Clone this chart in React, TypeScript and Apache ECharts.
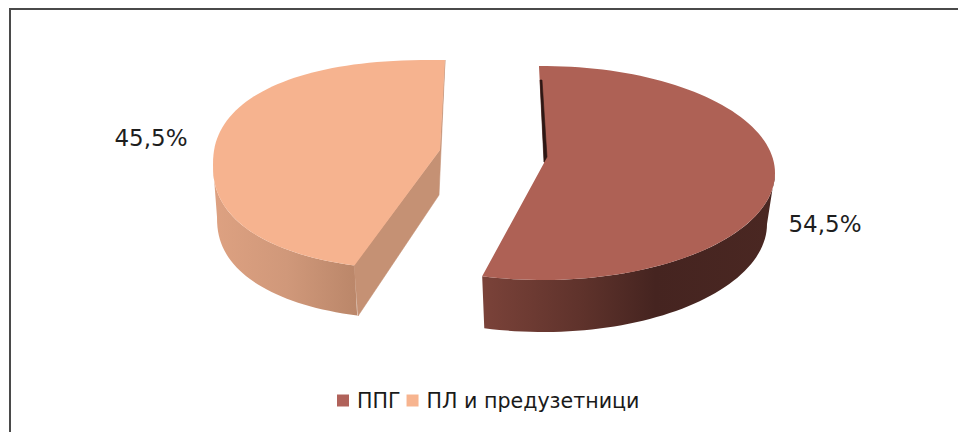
import React, { useEffect, useRef } from "react";
import * as echarts from "echarts";

const categories = ["ППГ", "ПЛ и предузетници"];
const shares = [54.5, 45.5];

const FONT = "'DejaVu Sans', Verdana, sans-serif";
const topColors = ["#AE6155", "#F6B38F"];
const legendColors = ["#B0625A", "#F7B48F"];

type Geo = {
  cx: number; cy: number; rx: number; ry: number; start: number; round: number;
  apex: [number, number]; depth: number; bottomRx: number; bottomCx: number; bottomRy: number;
  wallFrom: number; wallStops: [number, string][]; wallX: [number, number];
  label: [number, number];
  inner: [number, number][]; innerFill: string; innerOnTop: boolean;
};

const geos: Geo[] = [
  {
    cx: 543, cy: 173, rx: 232, ry: 107, start: -1, round: 1,
    apex: [544, 163], depth: 51, bottomRx: 224, bottomCx: 543, bottomRy: 108,
    wallFrom: 90,
    wallStops: [[0, "#7A4239"], [0.35, "#5E322B"], [0.6, "#452420"], [1, "#4A2722"]],
    wallX: [484, 770],
    label: [825, 224],
    inner: [[540, 80], [544, 162], [547, 157], [542, 80]],
    innerFill: "#2E1714",
    innerOnTop: true,
  },
  {
    cx: 434, cy: 165, rx: 221, ry: 105, start: 198, round: 0.87,
    apex: [440, 150], depth: 52, bottomRx: 219, bottomCx: 436, bottomRy: 103,
    wallFrom: 270,
    wallStops: [[0, "#DDA181"], [0.5, "#D0987A"], [1, "#BA8669"]],
    wallX: [215, 358],
    label: [151, 138],
    inner: [[445, 60], [439, 195], [358, 316], [354, 265], [440, 150]],
    innerFill: "#C59174",
    innerOnTop: false,
  },
];

const rad = (d: number) => (d * Math.PI) / 180;
const pow = (v: number, p: number) => Math.sign(v) * Math.pow(Math.abs(v), p);

function arc(cx: number, cy: number, rx: number, ry: number, a: number, b: number, p: number) {
  const pts: [number, number][] = [];
  const n = Math.max(2, Math.ceil(Math.abs(b - a) / 2));
  for (let i = 0; i <= n; i++) {
    const t = rad(a + ((b - a) * i) / n);
    pts.push([cx + rx * pow(Math.sin(t), p), cy - ry * pow(Math.cos(t), p)]);
  }
  return pts;
}

function renderSlice(idx: number) {
  return (_params: any, api: any) => {
    const value = api.value(0) as number;
    const g = geos[idx];
    const end = g.start + value * 3.6;
    const topArc = arc(g.cx, g.cy, g.rx, g.ry, g.start, end, g.round);
    // the outer wall runs from the arc's widest point down to the front corner
    const wallA = idx === 0 ? g.wallFrom : g.start;
    const wallB = idx === 0 ? end : g.wallFrom;
    const upper = arc(g.cx, g.cy, g.rx, g.ry, wallA, wallB, g.round);
    const lower = arc(g.bottomCx, g.cy + g.depth, g.bottomRx, g.bottomRy, wallB, wallA, g.round);
    const wallFill = new echarts.graphic.LinearGradient(
      g.wallX[0], 0, g.wallX[1], 0,
      g.wallStops.map(([offset, color]) => ({ offset, color })),
      true
    );
    const text = `${value.toFixed(1).replace(".", ",")}%`;
    const innerFace = {
      type: "polygon",
      shape: { points: g.inner },
      style: { fill: g.innerFill, stroke: g.innerFill, lineWidth: 0.6 },
    };
    const topFace = {
      type: "polygon",
      shape: { points: [...topArc, g.apex] },
      style: { fill: topColors[idx] },
    };
    return {
      type: "group",
      children: [
        { type: "polygon", shape: { points: [...upper, ...lower] }, style: { fill: wallFill } },
        ...(g.innerOnTop ? [topFace, innerFace] : [innerFace, topFace]),
        {
          type: "text",
          x: g.label[0],
          y: g.label[1],
          style: {
            text,
            fill: "#1E1E1E",
            font: `23px ${FONT}`,
            align: "center",
            verticalAlign: "middle",
          },
        },
      ],
    };
  };
}

export default function App() {
  const ref = useRef<HTMLDivElement>(null);
  useEffect(() => {
    const chart = echarts.init(ref.current!, undefined, { renderer: "svg" });
    chart.setOption({
      animation: false,
      backgroundColor: "#FFFFFF",
      legend: {
        left: 332,
        top: 385,
        itemWidth: 12,
        itemHeight: 12,
        itemGap: 6,
        icon: "rect",
        textStyle: { fontFamily: FONT, fontSize: 20.6, color: "#1A1A1A", padding: [0, 0, 0, 3] },
        data: categories.map((name, i) => ({ name, itemStyle: { color: legendColors[i] } })),
      },
      graphic: [
        { type: "rect", shape: { x: 9, y: 8, width: 949, height: 2 }, style: { fill: "#4A4A4A" } },
        { type: "rect", shape: { x: 9, y: 8, width: 2, height: 424 }, style: { fill: "#4A4A4A" } },
      ],
      series: categories.map((name, i) => ({
        type: "custom",
        name,
        coordinateSystem: "none",
        itemStyle: { color: legendColors[i] },
        renderItem: renderSlice(i),
        data: [[shares[i]]],
      })),
    });
    return () => chart.dispose();
  }, []);
  return <div ref={ref} style={{ position: "fixed", left: 0, top: 0, width: 958, height: 432 }} />;
}
